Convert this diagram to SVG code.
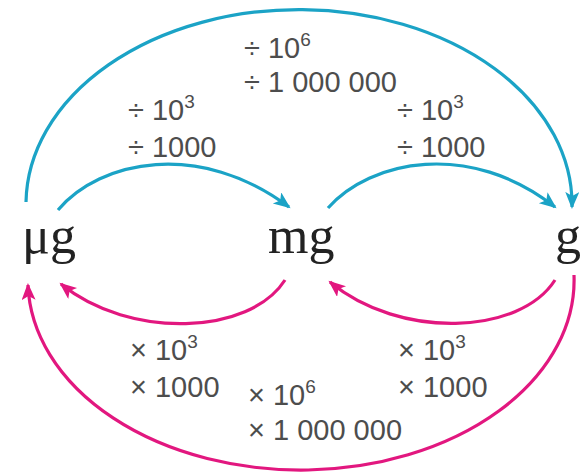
<svg xmlns="http://www.w3.org/2000/svg" width="584" height="473" viewBox="0 0 584 473">
<style>
.lbl{font-family:"Liberation Sans",Arial,sans-serif;font-size:29px;fill:#4d4d4d}
.sup{font-size:19px}
.unit{font-family:"Liberation Serif","Times New Roman",serif;font-size:52px;fill:#222}
.c{fill:none;stroke:#1ba3c6;stroke-width:3.2}
.m{fill:none;stroke:#e2177f;stroke-width:3.2}
</style>
<defs>
<marker id="ac" markerUnits="userSpaceOnUse" markerWidth="20" markerHeight="16" refX="15" refY="7" orient="auto"><path d="M0,0 L17,7 L0,14 L4,7 z" fill="#1ba3c6"/></marker>
<marker id="am" markerUnits="userSpaceOnUse" markerWidth="20" markerHeight="16" refX="15" refY="7" orient="auto"><path d="M0,0 L17,7 L0,14 L4,7 z" fill="#e2177f"/></marker>
</defs>
<rect width="584" height="473" fill="#fff"/>
<g id="connectors">
<path class="c" d="M26,202 A273 195 0 0 1 572,207" marker-end="url(#ac)"/>
<path class="c" d="M58,210 C100,160 200,140 289,207" marker-end="url(#ac)"/>
<path class="c" d="M328,208 C370,160 470,140 555,207" marker-end="url(#ac)"/>
<path class="m" d="M574,275 A273 190 0 0 1 28,285" marker-end="url(#am)"/>
<path class="m" d="M285,280 C250,335 130,340 61,284" marker-end="url(#am)"/>
<path class="m" d="M555,280 C520,335 400,340 330,282" marker-end="url(#am)"/>
</g>
<g id="labels">
<text class="lbl" x="244" y="58">÷ 10<tspan class="sup" dy="-12">6</tspan></text>
<text class="lbl" x="244" y="92">÷ 1 000 000</text>
<text class="lbl" x="128" y="120">÷ 10<tspan class="sup" dy="-12">3</tspan></text>
<text class="lbl" x="128" y="157">÷ 1000</text>
<text class="lbl" x="397" y="120">÷ 10<tspan class="sup" dy="-12">3</tspan></text>
<text class="lbl" x="397" y="157">÷ 1000</text>
<text class="lbl" x="130" y="360">× 10<tspan class="sup" dy="-12">3</tspan></text>
<text class="lbl" x="130" y="397">× 1000</text>
<text class="lbl" x="248" y="405">× 10<tspan class="sup" dy="-12">6</tspan></text>
<text class="lbl" x="248" y="440">× 1 000 000</text>
<text class="lbl" x="398" y="360">× 10<tspan class="sup" dy="-12">3</tspan></text>
<text class="lbl" x="398" y="397">× 1000</text>
</g>
<g id="ug"><text class="unit" x="22" y="253">μg</text></g>
<g id="mg"><text class="unit" x="268" y="253">mg</text></g>
<g id="g"><text class="unit" x="555" y="253">g</text></g>
</svg>
